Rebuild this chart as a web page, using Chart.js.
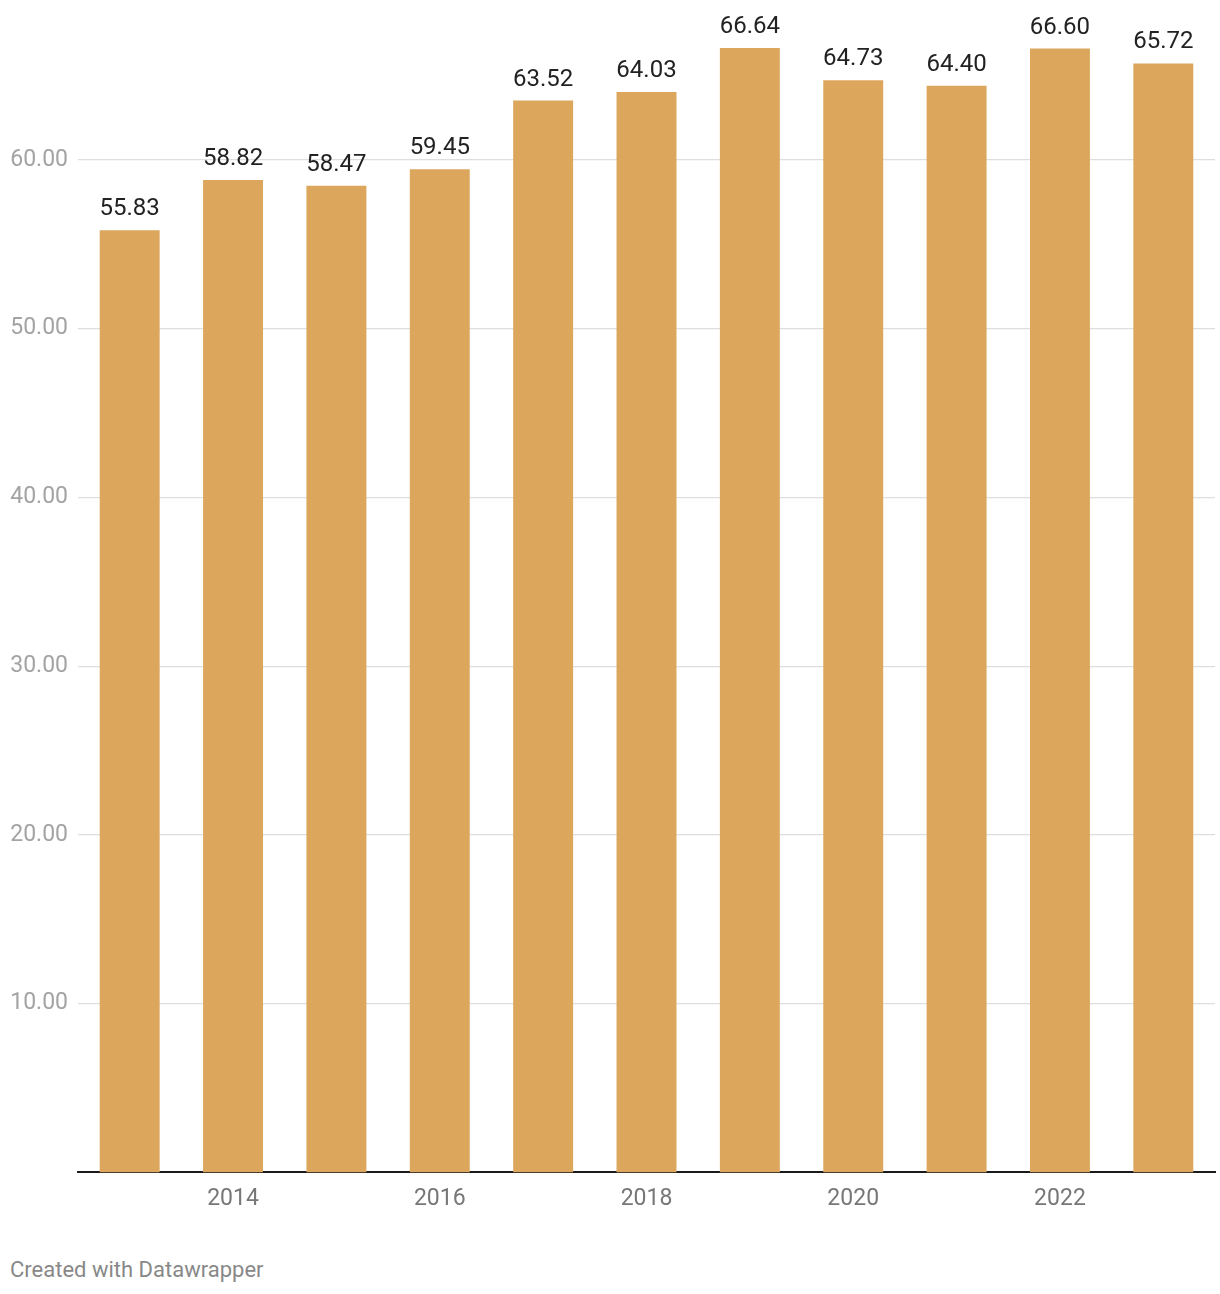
<!DOCTYPE html>
<html>
<head>
<meta charset="utf-8">
<script src="https://cdn.jsdelivr.net/npm/chart.js@4"></script>
<style>
  html, body { margin: 0; padding: 0; background: #fff; }
  body { width: 1220px; height: 1294px; position: relative; font-family: Roboto, "Noto Sans", sans-serif; }
  #wrap { position: absolute; left: 0; top: 0; width: 1220px; height: 1230px; }
  #credit { position: absolute; left: 10px; top: 1257px; font-size: 22px; color: #888; }
</style>
</head>
<body>
<div id="wrap"><canvas id="chart"></canvas></div>
<div id="credit">Created with Datawrapper</div>
<script>
// data
const years  = ['2013', '2014', '2015', '2016', '2017', '2018', '2019', '2020', '2021', '2022', '2023'];
const values = [55.83, 58.82, 58.47, 59.45, 63.52, 64.03, 66.64, 64.73, 64.40, 66.60, 65.72];
const yTicks = [10, 20, 30, 40, 50, 60];

const BAR_COLOR = '#dca75d';

// value labels above the bars
const valueLabels = {
  id: 'valueLabels',
  afterDatasetsDraw(chart) {
    const { ctx } = chart;
    const meta = chart.getDatasetMeta(0);
    ctx.save();
    ctx.font = '24px Roboto';
    ctx.fillStyle = '#222';
    ctx.textAlign = 'center';
    ctx.textBaseline = 'alphabetic';
    meta.data.forEach((bar, i) => {
      ctx.fillText(values[i].toFixed(2), bar.x, bar.y - 15);
    });
    ctx.restore();
  }
};

new Chart(document.getElementById('chart'), {
  type: 'bar',
  data: {
    labels: years,
    datasets: [{
      data: values,
      backgroundColor: BAR_COLOR,
      borderWidth: 0,
      barPercentage: 0.58,
      categoryPercentage: 1
    }]
  },
  options: {
    responsive: true,
    maintainAspectRatio: false,
    animation: false,
    layout: { padding: { top: 25, left: 6, right: 5, bottom: 4 } },
    plugins: {
      legend: { display: false },
      tooltip: { enabled: false }
    },
    scales: {
      x: {
        grid: { display: false, drawTicks: false },
        border: { display: true, color: '#1a1a1a', width: 2 },
        ticks: {
          padding: 13,
          color: '#777',
          font: { family: 'Roboto', size: 23 },
          maxRotation: 0,
          autoSkip: false,
          callback: (v, i) => (Number(years[i]) % 2 === 0 ? years[i] : '')
        }
      },
      y: {
        min: 0,
        max: 68,
        afterBuildTicks: (scale) => { scale.ticks = yTicks.map(v => ({ value: v })); },
        afterFit: (scale) => { scale.width = 72; },
        grid: { color: '#dedede', lineWidth: 1.2, drawTicks: false },
        border: { display: false },
        ticks: {
          padding: 10,
          color: '#a3a3a3',
          font: { family: 'Roboto', size: 23 },
          callback: (v) => v.toFixed(2)
        }
      }
    }
  },
  plugins: [valueLabels]
});
</script>
</body>
</html>
